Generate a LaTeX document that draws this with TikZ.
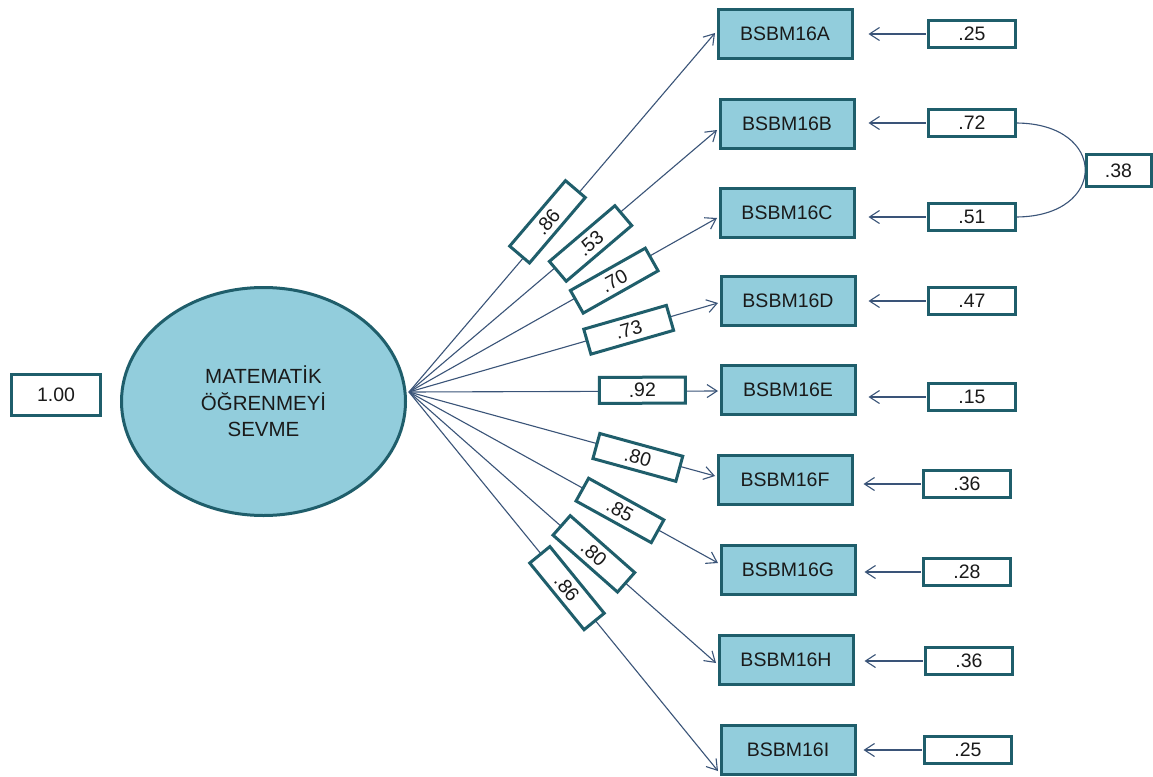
\documentclass[tikz,border=0pt]{standalone}
\usepackage{fontspec}
\setmainfont{Liberation Sans}
\usetikzlibrary{arrows.meta,calc,shapes.geometric}
\definecolor{fillc}{HTML}{92CDDC}
\definecolor{bordc}{HTML}{1F5E6B}
\definecolor{linec}{HTML}{3A5478}
\definecolor{txtc}{HTML}{1A1A1A}
\begin{document}
\begin{tikzpicture}[x=1pt,y=-1pt,
  every node/.style={font=\fontsize{19.5}{26}\selectfont, text=txtc},
  indbox/.style={draw=bordc, fill=fillc, line width=3pt, minimum width=134pt, minimum height=49pt, inner sep=0pt},
  errbox/.style={draw=bordc, fill=white, line width=3pt, minimum width=87pt, minimum height=27pt, inner sep=0pt},
  lblbox/.style={draw=bordc, fill=white, line width=3pt, minimum width=86pt, minimum height=26pt, inner sep=0pt, sloped},
  conn/.style={draw=linec, line width=1.1pt, -{Straight Barb[length=10pt,width=13pt,line width=1.1pt]}},
  covline/.style={draw=linec, line width=1.1pt},
]
\fill[white] (0,0) rectangle (1153,776);
\useasboundingbox (0,0) rectangle (1153,776);

% latent variable
\node[ellipse, draw=bordc, fill=fillc, line width=3pt, minimum width=284pt, minimum height=228pt, inner sep=0pt, align=center, font=\fontsize{20.5}{26.5}\selectfont] (lat) at (263.5,401.5) {MATEMATİK\\ÖĞRENMEYİ\\SEVME};
\node[errbox, minimum width=89pt, minimum height=41pt] (var) at (56,395) {1.00};
\coordinate (src) at (409,392);

% indicators
\node[indbox] (A) at (785,34) {BSBM16A};
\node[indbox] (B) at (787,124) {BSBM16B};
\node[indbox] (C) at (787,213) {BSBM16C};
\node[indbox] (D) at (788,301) {BSBM16D};
\node[indbox] (E) at (788,390) {BSBM16E};
\node[indbox] (F) at (785,480) {BSBM16F};
\node[indbox] (G) at (788,570) {BSBM16G};
\node[indbox] (H) at (786,660) {BSBM16H};
\node[indbox] (I) at (788,750) {BSBM16I};

% covariance arc (behind .38 box)
\draw[covline] (972,123) ++(43.5,0) coordinate (c2) .. controls +(93,0) and +(93,0) .. ($(c2)+(0,94)$);

% error terms
\node[errbox] (e1) at (972,34) {.25};
\node[errbox] (e2) at (972,123) {.72};
\node[errbox] (e3) at (972,217) {.51};
\node[errbox] (e4) at (972,301) {.47};
\node[errbox] (e5) at (972,397) {.15};
\node[errbox] (e6) at (967,484) {.36};
\node[errbox] (e7) at (967,572) {.28};
\node[errbox] (e8) at (969,661) {.36};
\node[errbox] (e9) at (968,750) {.25};
\node[errbox, minimum width=65pt, minimum height=32pt] (cov) at (1118.5,170.5) {.38};

% error arrows
\draw[conn] ($(e1.west)+(-1.5,0)$) -- ($(A.east |- e1.west)+(15,0)$);
\draw[conn] ($(e2.west)+(-1.5,0)$) -- ($(B.east |- e2.west)+(13,0)$);
\draw[conn] ($(e3.west)+(-1.5,0)$) -- ($(C.east |- e3.west)+(13,0)$);
\draw[conn] ($(e4.west)+(-1.5,0)$) -- ($(D.east |- e4.west)+(12,0)$);
\draw[conn] ($(e5.west)+(-1.5,0)$) -- ($(E.east |- e5.west)+(12,0)$);
\draw[conn] ($(e6.west)+(-1.5,0)$) -- ($(F.east |- e6.west)+(10,0)$);
\draw[conn] ($(e7.west)+(-1.5,0)$) -- ($(G.east |- e7.west)+(8,0)$);
\draw[conn] ($(e8.west)+(-1.5,0)$) -- ($(H.east |- e8.west)+(10,0)$);
\draw[conn] ($(e9.west)+(-1.5,0)$) -- ($(I.east |- e9.west)+(7,0)$);

% loadings
\draw[conn] (src) -- ($(A.west)+(-1.5,-1)$) node[lblbox,pos=0.465,yshift=5pt] {.86};
\draw[conn] (src) -- ($(B.west)+(-1.5,6)$) node[lblbox,pos=0.58,yshift=-4.5pt] {.53};
\draw[conn] (src) -- ($(C.west)+(-1.5,5)$) node[lblbox,pos=0.66,yshift=-4pt] {.70};
\draw[conn] (src) -- ($(D.west)+(-1.5,2)$) node[lblbox,pos=0.71,yshift=-1pt] {.73};
\draw[conn] (src) -- ($(E.west)+(-1.5,1)$) node[lblbox,pos=0.755,yshift=1pt] {.92};
\draw[conn] (src) -- ($(F.west)+(-1.5,-4)$) node[lblbox,pos=0.75,yshift=-2.5pt] {.80};
\draw[conn] (src) -- ($(G.west)+(-1.5,-7)$) node[lblbox,pos=0.685,yshift=-1.5pt] {.85};
\draw[conn] (src) -- ($(H.west)+(-1.5,3)$) node[lblbox,pos=0.60,yshift=1pt] {.80};
\draw[conn] (src) -- ($(I.west)+(-1.5,21)$) node[lblbox,pos=0.515,yshift=-1.5pt] {.86};
\end{tikzpicture}
\end{document}
